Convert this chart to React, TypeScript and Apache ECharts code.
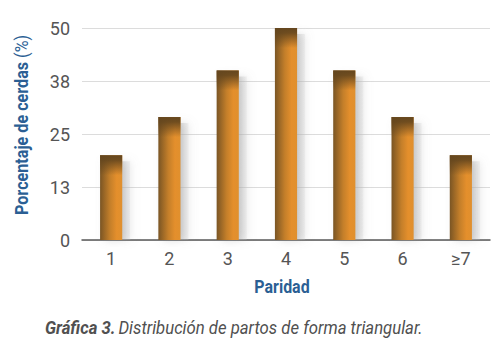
import React, { useEffect, useRef } from "react";
import * as echarts from "echarts";

const categories = ["1", "2", "3", "4", "5", "6", "≥7"];
const values = [20, 29, 40, 50, 40, 29, 20];
const yTicks = [0, 12.5, 25, 37.5, 50];

const FONT = 'Roboto, "Liberation Sans", sans-serif';

export default function App() {
  const ref = useRef<HTMLDivElement>(null);
  useEffect(() => {
    if (!ref.current) return;
    const chart = echarts.init(ref.current, null, { renderer: "svg" });
    const data = values.map((v, i) => [i, v]);
    chart.setOption({
      animation: false,
      backgroundColor: "#ffffff",
      grid: { left: 82, right: 10, top: 28, bottom: 122, containLabel: false },
      xAxis: {
        type: "category",
        data: categories,
        axisLine: { lineStyle: { color: "#5a5a5a", width: 1.5 } },
        axisTick: { show: false },
        axisLabel: { color: "#555555", fontFamily: FONT, fontSize: 18, margin: 9 },
      },
      yAxis: {
        type: "value",
        min: yTicks[0],
        max: yTicks[yTicks.length - 1],
        interval: yTicks[1] - yTicks[0],
        axisLine: { show: false },
        axisTick: { show: false },
        splitLine: { lineStyle: { color: "#dcdcdc", width: 1 } },
        axisLabel: {
          color: "#555555",
          fontFamily: FONT,
          fontSize: 18,
          margin: 12,
          formatter: (v: number) => String(Math.round(v)),
        },
      },
      series: [
        {
          type: "custom",
          data,
          renderItem: (params: any, api: any) => {
            const x = api.value(0);
            const v = api.value(1);
            const top = api.coord([x, v]);
            const bottom = api.coord([x, 0]);
            const w = api.size([1, 0])[0] * 0.38;
            const left = top[0] - w / 2;
            const h = bottom[1] - top[1];
            return {
              type: "group",
              children: [
                {
                  type: "rect",
                  shape: { x: left + 4, y: top[1] + 6, width: w + 4, height: h - 6 },
                  style: {
                    fill: new echarts.graphic.LinearGradient(0, 0, 1, 0, [
                      { offset: 0, color: "rgba(130,130,130,0.6)" },
                      { offset: 0.6, color: "rgba(160,160,160,0.5)" },
                      { offset: 1, color: "rgba(200,200,200,0.2)" },
                    ]),
                    shadowBlur: 8,
                    shadowColor: "rgba(140,140,140,0.6)",
                    shadowOffsetX: 1,
                  },
                },
                {
                  type: "rect",
                  shape: { x: left, y: top[1], width: w, height: h },
                  style: {
                    fill: new echarts.graphic.LinearGradient(0, 0, 1, 0, [
                      { offset: 0, color: "#7a5524" },
                      { offset: 0.45, color: "#c47f2a" },
                      { offset: 0.75, color: "#e48f2c" },
                      { offset: 1, color: "#e0902e" },
                    ]),
                  },
                },
                {
                  type: "rect",
                  shape: { x: left, y: top[1], width: w, height: Math.min(20, h) },
                  style: {
                    fill: new echarts.graphic.LinearGradient(0, 0, 0, 1, [
                      { offset: 0, color: "rgba(100,70,30,1)" },
                      { offset: 0.25, color: "rgba(100,70,30,0.9)" },
                      { offset: 1, color: "rgba(100,70,30,0)" },
                    ]),
                  },
                },
              ],
            };
          },
        },
      ],
      graphic: [
        {
          type: "text",
          x: 22,
          y: 125,
          rotation: Math.PI / 2,
          scaleX: 0.85,
          style: {
            text: "{b|Porcentaje de cerdas }{r|(%)}",
            align: "center",
            verticalAlign: "middle",
            rich: {
              b: { fontFamily: FONT, fontSize: 19, fontWeight: "bold", fill: "#2b5f94" },
              r: { fontFamily: FONT, fontSize: 19, fill: "#2b5f94" },
            },
          },
        },
        {
          type: "text",
          x: 282,
          y: 287,
          scaleX: 0.84,
          style: {
            text: "Paridad",
            align: "center",
            verticalAlign: "middle",
            fontFamily: FONT,
            fontSize: 19,
            fontWeight: "bold",
            fill: "#2b5f94",
          },
        },
        {
          type: "text",
          x: 45,
          y: 327,
          scaleX: 0.88,
          style: {
            text: "{b|Gráfica 3.} {r|Distribución de partos de forma triangular.}",
            align: "left",
            verticalAlign: "middle",
            rich: {
              b: { fontFamily: FONT, fontSize: 19, fontWeight: "bold", fontStyle: "italic", fill: "#505050" },
              r: { fontFamily: FONT, fontSize: 19, fontStyle: "italic", fill: "#505050" },
            },
          },
        },
      ],
    });
    return () => chart.dispose();
  }, []);
  return <div ref={ref} style={{ width: 500, height: 362, position: "absolute", left: 0, top: 0 }} />;
}
